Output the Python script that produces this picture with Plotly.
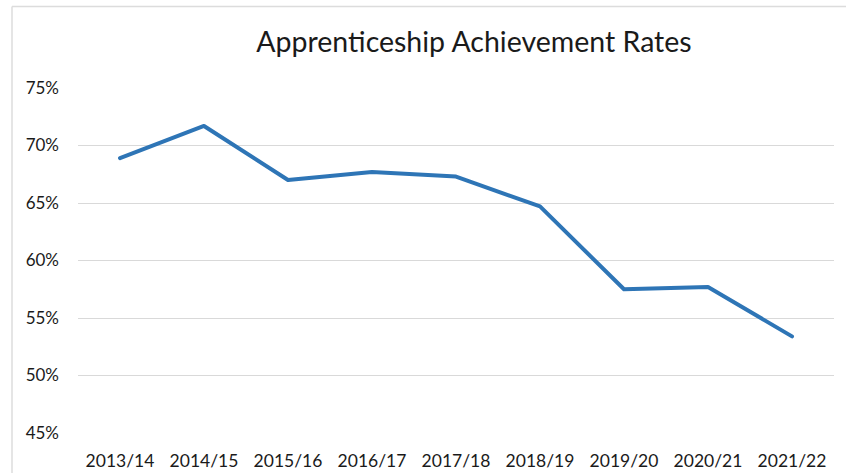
import plotly.graph_objects as go

years = ["2013/14", "2014/15", "2015/16", "2016/17", "2017/18",
         "2018/19", "2019/20", "2020/21", "2021/22"]
rates = [0.689, 0.717, 0.670, 0.677, 0.673, 0.647, 0.575, 0.577, 0.534]
y_ticks = [0.45, 0.50, 0.55, 0.60, 0.65, 0.70, 0.75]
y_tick_labels = ["45%", "50%", "55%", "60%", "65%", "70%", "75%"]

W, H = 846, 473
L, R, T, B = 78, 12, 88, 40
pw = W - L - R
ph = H - T - B

fig = go.Figure()
fig.add_trace(go.Scatter(
    x=years, y=rates, mode="lines",
    line=dict(color="#2E75B6", width=4, shape="linear"),
    hoverinfo="x+y",
))

font_family = "Lato, 'Open Sans', sans-serif"

fig.update_layout(
    width=W, height=H,
    margin=dict(l=L, r=R, t=T, b=B, autoexpand=False),
    paper_bgcolor="white", plot_bgcolor="white",
    showlegend=False,
    title=dict(
        text="Apprenticeship Achievement Rates",
        x=(474 - L) / pw, xref="paper", xanchor="center",
        y=1 - 42 / H, yref="container", yanchor="middle",
        font=dict(family=font_family, size=28.5, color="#1a1a1a"),
    ),
    xaxis=dict(
        type="category", range=[-0.5, 8.5], automargin=False,
        showgrid=False, zeroline=False, showline=False,
        ticks="", tickfont=dict(family=font_family, size=17.5, color="#1a1a1a"),
        ticklabelstandoff=15,
    ),
    yaxis=dict(
        range=[0.45, 0.75], tickvals=y_ticks, ticktext=y_tick_labels,
        automargin=False,
        showgrid=True, gridcolor="#d9d9d9", gridwidth=1.3,
        zeroline=False, showline=False, ticks="",
        tickfont=dict(family=font_family, size=17, color="#1a1a1a"),
        ticklabelstandoff=18,
    ),
)

# light chart-area border (top and left edges)
fig.add_shape(type="line", xref="paper", yref="paper",
              x0=-(L - 12) / pw, x1=(W - L) / pw,
              y0=1 + (T - 6.5) / ph, y1=1 + (T - 6.5) / ph,
              line=dict(color="#dcdcdc", width=1.5))
fig.add_shape(type="line", xref="paper", yref="paper",
              x0=-(L - 12) / pw, x1=-(L - 12) / pw,
              y0=1 + (T - 6.5) / ph, y1=-B / ph,
              line=dict(color="#dcdcdc", width=1.5))

fig.write_html(
    "out.html",
    config={"displayModeBar": False, "responsive": False},
    post_script="document.body.style.margin='0';"
    "document.querySelectorAll('.js-line').forEach(function(p){p.style.strokeLinecap='round';p.style.strokeLinejoin='round';});",
)
